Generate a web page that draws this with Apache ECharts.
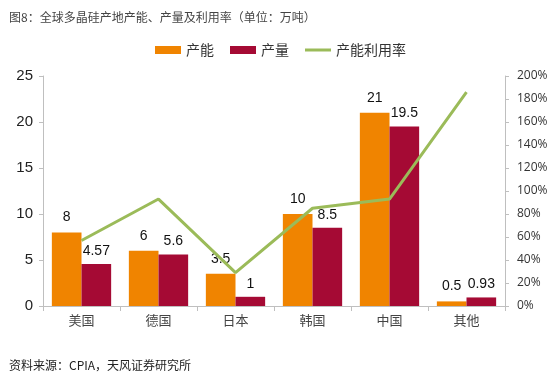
<!DOCTYPE html>
<html>
<head>
<meta charset="utf-8">
<script src="https://cdn.jsdelivr.net/npm/echarts@6/dist/echarts.min.js"></script>
<style>
  html, body { margin: 0; padding: 0; background: #fff; }
  #cn { width: 555px; height: 375px; }
</style>
</head>
<body>
<div id="cn"></div>
<script>
'use strict';

// 全球多晶硅产地产能、产量及利用率
const arrRegion = ['美国', '德国', '日本', '韩国', '中国', '其他'];
const arrCapacity = [8, 6, 3.5, 10, 21, 0.5];          // 产能 (万吨)
const arrOutput = [4.57, 5.6, 1, 8.5, 19.5, 0.93];      // 产量 (万吨)
const arrRate = [57, 93, 29, 85, 93, 186];              // 产能利用率 (%)

const FONT = '"Noto Sans CJK SC", "Liberation Sans", sans-serif';
const AXIS_GRAY = '#bfbfbf';

const chart = echarts.init(document.getElementById('cn'));

let option = {
    backgroundColor: '#fff',
    textStyle: { fontFamily: FONT },
    title: [
        {
            text: '图8：全球多晶硅产地产能、产量及利用率（单位：万吨）',
            left: 4,
            top: 6,
            textStyle: { fontSize: 12, fontWeight: 'normal', color: '#444', fontFamily: FONT }
        },
        {
            text: '资料来源：CPIA，天风证券研究所',
            left: 4,
            top: 354,
            textStyle: { fontSize: 12, fontWeight: 'normal', color: '#222', fontFamily: FONT }
        }
    ],
    legend: {
        top: 38,
        left: 150,
        itemWidth: 26,
        itemHeight: 8,
        itemGap: 16,
        textStyle: { fontSize: 14, color: '#333', fontFamily: FONT },
        data: [
            { name: '产能', icon: 'rect' },
            { name: '产量', icon: 'rect' },
            { name: '产能利用率', icon: 'path://M0,0 H26 V3 H0 Z' }
        ]
    },
    grid: {
        left: 43,
        right: 50,
        top: 76,
        bottom: 69
    },
    xAxis: {
        type: 'category',
        data: arrRegion,
        axisLine: { lineStyle: { color: AXIS_GRAY } },
        axisTick: { show: true, alignWithLabel: false, lineStyle: { color: AXIS_GRAY } },
        axisLabel: { color: '#444', fontSize: 13, margin: 8, fontFamily: FONT }
    },
    yAxis: [
        {
            type: 'value',
            min: 0,
            max: 25,
            interval: 5,
            splitLine: { show: false },
            axisLine: { show: true, lineStyle: { color: AXIS_GRAY } },
            axisTick: { show: true, length: 4, lineStyle: { color: AXIS_GRAY } },
            axisLabel: { color: '#222', fontSize: 15, margin: 10, fontFamily: '"Liberation Sans", sans-serif' }
        },
        {
            type: 'value',
            min: 0,
            max: 200,
            interval: 20,
            position: 'right',
            splitLine: { show: false },
            axisLine: { show: true, lineStyle: { color: AXIS_GRAY } },
            axisTick: { show: true, length: 4, lineStyle: { color: AXIS_GRAY } },
            axisLabel: {
                color: '#333',
                fontSize: 12,
                margin: 12,
                fontFamily: '"Open Sans", sans-serif',
                formatter: '{value}%'
            }
        }
    ],
    series: [
        {
            name: '产能',
            type: 'bar',
            data: arrCapacity,
            barGap: 0,
            barCategoryGap: '23%',
            itemStyle: { color: '#f08400' },
            label: {
                show: true,
                position: 'top',
                distance: 8,
                color: '#111',
                fontSize: 14,
                fontFamily: '"Liberation Sans", sans-serif'
            }
        },
        {
            name: '产量',
            type: 'bar',
            data: arrOutput,
            itemStyle: { color: '#a50a34' },
            label: {
                show: true,
                position: 'top',
                distance: 6,
                color: '#111',
                fontSize: 14,
                fontFamily: '"Liberation Sans", sans-serif'
            }
        },
        {
            name: '产能利用率',
            type: 'line',
            yAxisIndex: 1,
            data: arrRate,
            symbol: 'none',
            lineStyle: { color: '#9bbb59', width: 3 },
            itemStyle: { color: '#9bbb59' },
            z: 5
        }
    ]
};

chart.setOption(option);
</script>
</body>
</html>
